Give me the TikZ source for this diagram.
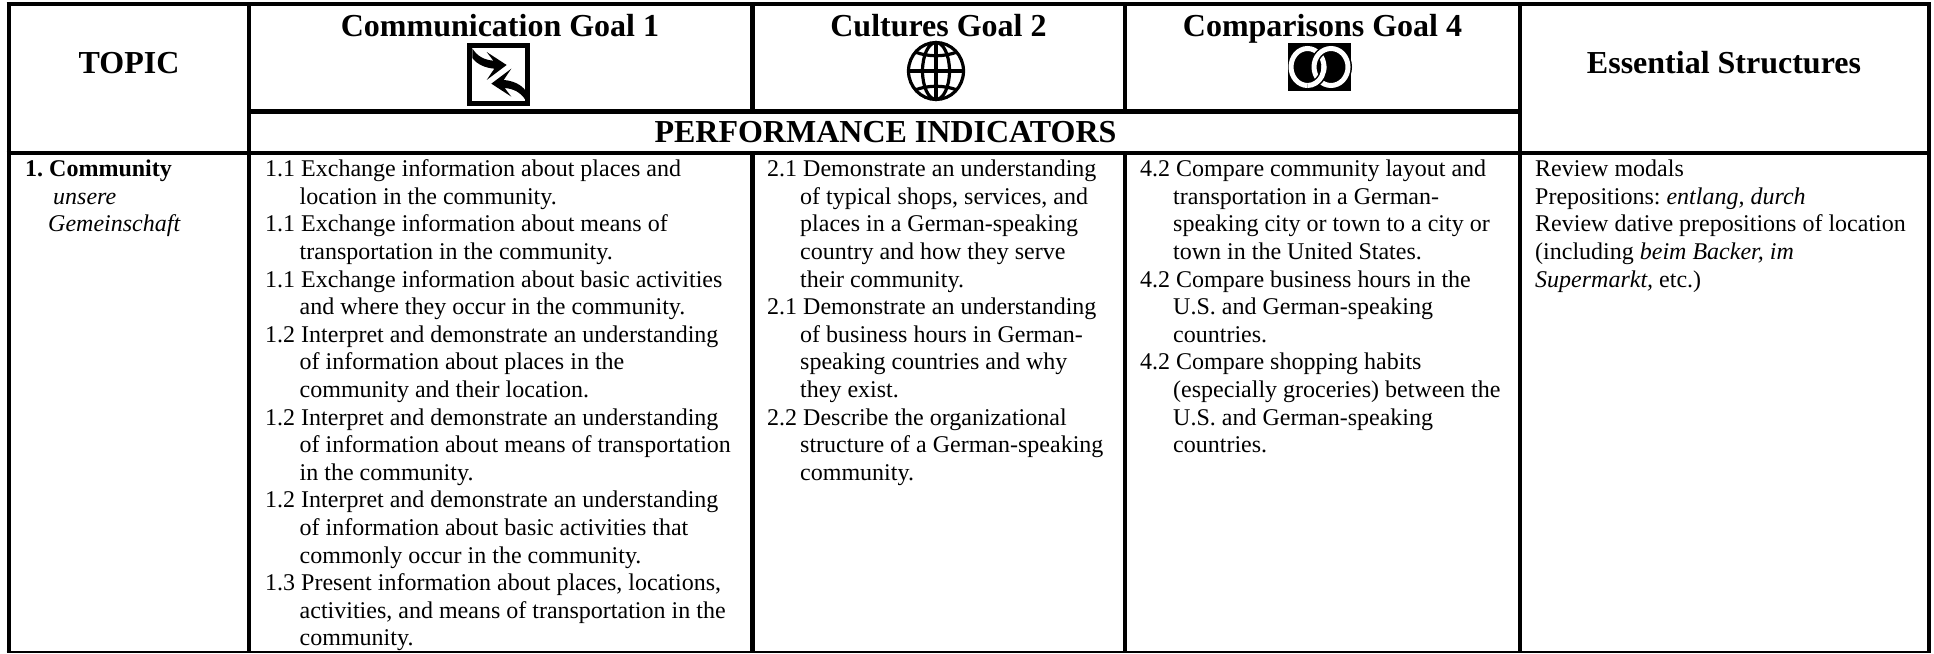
\documentclass[tikz,border=0pt]{standalone}
\usepackage{fontspec}
\setmainfont{Liberation Serif}
\newcommand{\fl}{\rule{0pt}{20pt}}
\newcommand{\hg}{\hspace*{34.5pt}}
\newcommand{\hh}{\hspace*{33pt}}
\tikzset{
  grid line/.style={black,line width=4.4pt},
  head/.style={font=\bfseries\fontsize{32}{36}\selectfont,inner sep=0pt,anchor=base},
  cell/.style={font=\frenchspacing\fontsize{24}{27.6}\selectfont,inner sep=0pt,anchor=north west,align=left},
  cell text/.style={cell}
}
\begin{document}
\begin{tikzpicture}[x=1pt,y=-1pt]
\useasboundingbox (0,0) rectangle (1934,653);
\fill[white] (0,0) rectangle (1934,653);
% grid
\draw[grid line] (6.5,4) -- (1931,4);
\draw[grid line] (249,111.5) -- (1520,111.5);
\draw[grid line] (6.5,153) -- (1931,153);
\draw[black,line width=2.4pt] (6.5,651.8) -- (1931,651.8);
\foreach \x in {8.7,249,1520,1928.8} \draw[grid line] (\x,2) -- (\x,653);
\foreach \x in {752.5,1125} {\draw[grid line] (\x,4) -- (\x,111.5); \draw[grid line] (\x,153) -- (\x,653);}
% headers
\node[head] (topic) at (129,73) {TOPIC};
\node[head] (comm) at (500,36) {Communication Goal 1};
\node[head] (cult) at (938.5,36) {Cultures Goal 2};
\node[head] (comp) at (1322.5,36) {Comparisons Goal 4};
\node[head] (ess) at (1724,73) {Essential Structures};
\node[head] (perf) at (885.5,142) {PERFORMANCE INDICATORS};
% communication icon
\begin{scope}[shift={(440,30)},x=0.3333pt,y=-0.3333pt]
\draw[black,line width=5pt] (89,46) rectangle (264,220);
\foreach \r in {0,180}{
\begin{scope}[rotate around={\r:(177,133)}]
\fill[black] (97,55) .. controls (112,80) and (135,90) .. (160,92)
  -- (140,66) -- (200,105) -- (140,150) -- (163,116)
  .. controls (135,114) and (110,102) .. (97,84) -- cycle;
\end{scope}}
\end{scope}
% globe icon
\begin{scope}[black,line width=3.2pt]
\draw (936,71) ellipse (27.5pt and 28.5pt);
\draw (936,71) ellipse (13.5pt and 28.5pt);
\draw (936,42.5) -- (936,99.5);
\draw (908.5,71) -- (963.5,71);
\draw (915,52) .. controls (928,57) and (944,57) .. (957,52);
\draw (915,90) .. controls (928,85) and (944,85) .. (957,90);
\end{scope}
% comparison icon
\fill[black] (1288,43) rectangle (1351,91);
\draw[white,line width=5pt] (1307.5,67) ellipse (16.5pt and 18.5pt);
\draw[black,line width=8pt] (1331,67) ellipse (17pt and 18.5pt);
\draw[white,line width=5pt] (1331,67) ellipse (17pt and 18.5pt);
\draw[black,line width=8pt] (1307.5,85.5) arc[start angle=90,end angle=10,x radius=16.5pt,y radius=-18.5pt];
\draw[white,line width=5pt] (1307.5,85.5) arc[start angle=90,end angle=-5,x radius=16.5pt,y radius=-18.5pt];
% body
\node[cell] (topiccell) at (25,156.5) {\fl\textbf{1. Community}\\\hspace*{28pt}\textit{unsere}\\\hspace*{23pt}\textit{Gemeinschaft}};
\node[cell] (commcell) at (265,156.5) {\fl 1.1 Exchange information about places and\\
\hg location in the community.\\
1.1 Exchange information about means of\\
\hg transportation in the community.\\
1.1 Exchange information about basic activities\\
\hg and where they occur in the community.\\
1.2 Interpret and demonstrate an understanding\\
\hg of information about places in the\\
\hg community and their location.\\
1.2 Interpret and demonstrate an understanding\\
\hg of information about means of transportation\\
\hg in the community.\\
1.2 Interpret and demonstrate an understanding\\
\hg of information about basic activities that\\
\hg commonly occur in the community.\\
1.3 Present information about places, locations,\\
\hg activities, and means of transportation in the\\
\hg community.};
\node[cell] (cultcell) at (767,156.5) {\fl 2.1 Demonstrate an understanding\\
\hh of typical shops, services, and\\
\hh places in a German-speaking\\
\hh country and how they serve\\
\hh their community.\\
2.1 Demonstrate an understanding\\
\hh of business hours in German-\\
\hh speaking countries and why\\
\hh they exist.\\
2.2 Describe the organizational\\
\hh structure of a German-speaking\\
\hh community.};
\node[cell] (compcell) at (1140,156.5) {\fl 4.2 Compare community layout and\\
\hh transportation in a German-\\
\hh speaking city or town to a city or\\
\hh town in the United States.\\
4.2 Compare business hours in the\\
\hh U.S. and German-speaking\\
\hh countries.\\
4.2 Compare shopping habits\\
\hh (especially groceries) between the\\
\hh U.S. and German-speaking\\
\hh countries.};
\node[cell] (esscell) at (1535,156.5) {\fl Review modals\\
Prepositions: \textit{entlang, durch}\\
Review dative prepositions of location\\
(including \textit{beim Backer, im}\\
\textit{Supermarkt,} etc.)};
\end{tikzpicture}
\end{document}
